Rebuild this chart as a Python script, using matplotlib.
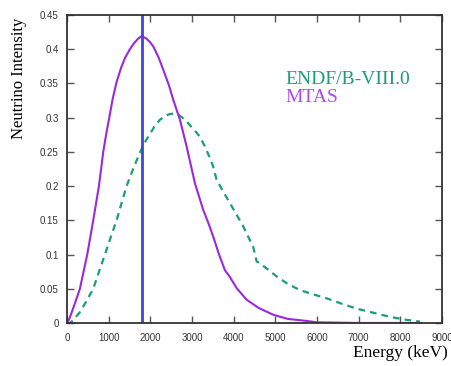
import matplotlib
matplotlib.use("Agg")
import matplotlib.pyplot as plt

# MTAS spectrum
mtas_energy = [0, 50, 100, 200, 312, 400, 488, 560, 632, 700, 768, 820, 872, 940, 1016,
               1100, 1192, 1300, 1400, 1512, 1600, 1700, 1790, 1900, 2000, 2072, 2200,
               2312, 2450, 2552, 2712, 2872, 3072, 3272, 3400, 3512, 3650, 3792, 3912,
               4072, 4312, 4600, 4952, 5300, 5752, 6000, 7000, 8000, 8500]
mtas_intensity = [0, 0.005, 0.013, 0.03, 0.05, 0.075, 0.1, 0.125, 0.15, 0.175, 0.2,
                  0.225, 0.25, 0.275, 0.3, 0.328, 0.352, 0.373, 0.388, 0.4, 0.408,
                  0.415, 0.419, 0.416, 0.41, 0.404, 0.388, 0.37, 0.347, 0.326, 0.297,
                  0.258, 0.204, 0.165, 0.145, 0.126, 0.1, 0.077, 0.067, 0.051, 0.034,
                  0.022, 0.012, 0.006, 0.003, 0.001, 0, 0, 0]

# ENDF/B-VIII.0 spectrum
endf_energy = [0, 72, 150, 300, 450, 632, 770, 912, 1050, 1192, 1310, 1432, 1600, 1760,
               1880, 2000, 2100, 2232, 2350, 2450, 2550, 2650, 2750, 2850, 2952, 3072,
               3192, 3310, 3432, 3512, 3592, 3750, 3912, 4072, 4232, 4350, 4472, 4512,
               4552, 4632, 4872, 5032, 5300, 5592, 5900, 6232, 6600, 6952, 7350, 7752,
               8100, 8472]
endf_intensity = [0, 0, 0.004, 0.015, 0.03, 0.05, 0.075, 0.1, 0.125, 0.15, 0.175, 0.2,
                  0.227, 0.25, 0.265, 0.277, 0.287, 0.297, 0.302, 0.305, 0.306, 0.305,
                  0.301, 0.296, 0.289, 0.281, 0.272, 0.258, 0.241, 0.228, 0.209, 0.192,
                  0.175, 0.158, 0.141, 0.126, 0.111, 0.1, 0.09, 0.087, 0.076, 0.068,
                  0.057, 0.048, 0.042, 0.036, 0.028, 0.021, 0.015, 0.009, 0.005, 0.002]

mean_energy = 1810

x_ticks = list(range(0, 10000, 1000))
y_ticks = [0, 0.05, 0.1, 0.15, 0.2, 0.25, 0.3, 0.35, 0.4, 0.45]
y_tick_labels = ["0", "0.05", "0.1", "0.15", "0.2", "0.25", "0.3", "0.35", "0.4", "0.45"]

GREEN = "#1a9e74"
PURPLE = "#9b27e0"
BLUE = "#3c46dc"

fig = plt.figure(figsize=(4.52, 3.66), dpi=100)
ax = fig.add_axes([0.148, 0.1175, 0.83, 0.8415])

ax.plot(endf_energy, endf_intensity, color=GREEN, lw=1.6, dashes=(3, 2.3))
ax.plot(mtas_energy, mtas_intensity, color=PURPLE, lw=1.5)
ax.axvline(mean_energy, color=BLUE, lw=2.0)

ax.set_xlim(0, 9000)
ax.set_ylim(0, 0.45)
ax.set_xticks(x_ticks)
ax.set_yticks(y_ticks)
ax.set_yticklabels(y_tick_labels)
ax.tick_params(direction="in", length=5, width=1, colors="#555555",
               labelcolor="#333333", labelsize=7, top=True, right=True)
ax.tick_params(axis="x", pad=7)
ax.tick_params(axis="y", pad=6)
for lab in ax.get_xticklabels() + ax.get_yticklabels():
    lab.set_family("Liberation Sans")
for sp in ax.spines.values():
    sp.set_color("#333333")
    sp.set_linewidth(1.3)

serif = "Liberation Serif"
ax.text(0.583, 0.775, "ENDF/B-VIII.0", transform=ax.transAxes, color=GREEN,
        fontsize=14, family=serif)
ax.text(0.583, 0.717, "MTAS", transform=ax.transAxes, color="#b548ea",
        fontsize=14, family=serif)

fig.text(0.042, 0.785, "Neutrino Intensity", rotation=90, ha="center", va="center",
         fontsize=12, family=serif)
fig.text(0.99, 0.015, "Energy (keV)", ha="right", va="bottom",
         fontsize=12.5, family=serif)

fig.savefig("out.png", dpi=100)
